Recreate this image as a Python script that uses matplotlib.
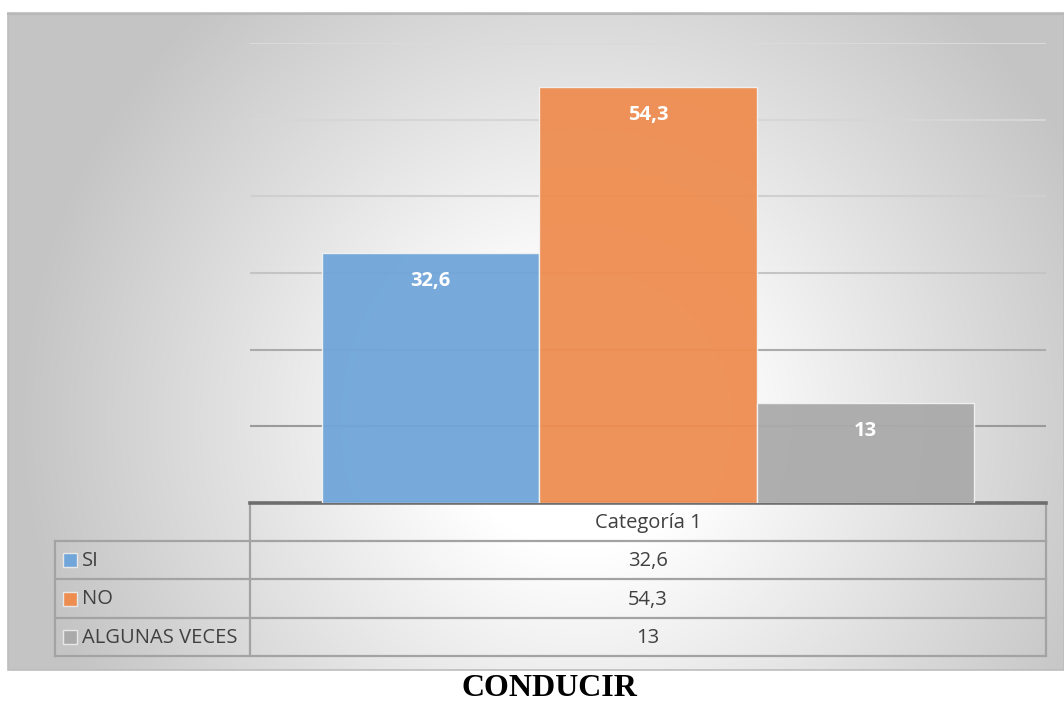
import numpy as np
import matplotlib
matplotlib.use("Agg")
import matplotlib.pyplot as plt
from matplotlib.patches import Rectangle

# data
category = "Categoría 1"
series = ["SI", "NO", "ALGUNAS VECES"]
values = [32.6, 54.3, 13]
colors = ["#70A6D9", "#EE8D50", "#AAAAAA"]
title = "CONDUCIR"

W, H = 1064, 702
fig = plt.figure(figsize=(W / 100, H / 100), dpi=100)
fig.patch.set_facecolor("white")

# background axes in pixel coordinates
bg = fig.add_axes([0, 0, 1, 1])
bg.set_xlim(0, W)
bg.set_ylim(H, 0)
bg.axis("off")

# chart area with radial grey gradient
cx0, cy0, cx1, cy1 = 8, 13, 1064, 670
yy, xx = np.mgrid[cy0:cy1, cx0:cx1]
r = np.hypot(xx - 580, yy - 420)
t = np.clip((r - 130) / 430, 0, 1)
v = 1 - 0.23 * t
img = np.dstack([v, v, v])
bg.imshow(img, extent=[cx0, cx1, cy1, cy0], aspect="auto", zorder=0, interpolation="bilinear")
bg.add_patch(Rectangle((cx0, cy0), cx1 - cx0, cy1 - cy0, fill=False, ec="#BDBDBD", lw=1.2, zorder=1))
bg.plot([cx0, cx1], [cy0 + 1, cy0 + 1], color="#B8B8B8", lw=1.5, zorder=1)

# plot area
px0, px1, ptop, pbase = 250, 1046, 43, 503
ax = fig.add_axes([px0 / W, (H - pbase) / H, (px1 - px0) / W, (pbase - ptop) / H])
ax.patch.set_alpha(0)
ax.set_xlim(-0.5, 0.5)
ax.set_ylim(0, 60)
for s in ax.spines.values():
    s.set_visible(False)
ax.set_xticks([])
ax.set_yticks([])

grid_cols = ["#9A9A9A", "#ABABAB", "#C4C4C4", "#CFCFCF", "#D6D6D6", "#DADADA"]
for g, gc in zip(range(10, 61, 10), grid_cols):
    ax.axhline(g, color=gc, lw=1.5, zorder=1)

bw = 0.2734
offsets = [-bw, 0, bw]
for off, val, col in zip(offsets, values, colors):
    ax.bar(off, val, width=bw, color=col, alpha=0.95, edgecolor="#F2F2F2", linewidth=1.0, zorder=2)
    ax.annotate(f"{val:g}".replace(".", ","), (off, val), xytext=(0, -28), textcoords="offset pixels",
                ha="center", va="center", color="white", fontsize=14.5, fontweight="bold",
                family="Open Sans", zorder=3)

# baseline
bg.plot([px0, px1], [pbase, pbase], color="#6E6E6E", lw=2.6, zorder=5)

# data table
tc = "#A3A3A3"
lx0 = 55
rows = [503, 541, 579, 618, 656]
bg.plot([px0, px0], [rows[0], rows[-1]], color=tc, lw=1.6, zorder=4)
bg.plot([px1, px1], [rows[0], rows[-1]], color=tc, lw=1.6, zorder=4)
bg.plot([lx0, lx0], [rows[1], rows[-1]], color=tc, lw=1.6, zorder=4)
for ry in rows[1:]:
    bg.plot([lx0, px1], [ry, ry], color=tc, lw=1.6, zorder=4)

txt = "#404040"
mid = (px0 + px1) / 2
fs = 14.5
bg.text(mid, (rows[0] + rows[1]) / 2 + 1, category, ha="center", va="center", fontsize=fs,
        color=txt, family="Open Sans", zorder=6)
for i, (name, val, col) in enumerate(zip(series, values, colors)):
    yc = (rows[i + 1] + rows[i + 2]) / 2
    bg.add_patch(Rectangle((63, yc - 7), 14, 14, fc=col, ec="#E8E8E8", lw=1.0, zorder=6))
    bg.text(82, yc + 1, name, ha="left", va="center", fontsize=fs, color=txt,
            family="Open Sans", zorder=6)
    bg.text(mid, yc + 1, f"{val:g}".replace(".", ","), ha="center", va="center", fontsize=fs,
            color=txt, family="Open Sans", zorder=6)

# title
bg.text(549, 689, title, ha="center", va="center", fontsize=23, fontweight="bold",
        family="Liberation Serif", color="black", zorder=6)

fig.savefig("out.png", dpi=100)
